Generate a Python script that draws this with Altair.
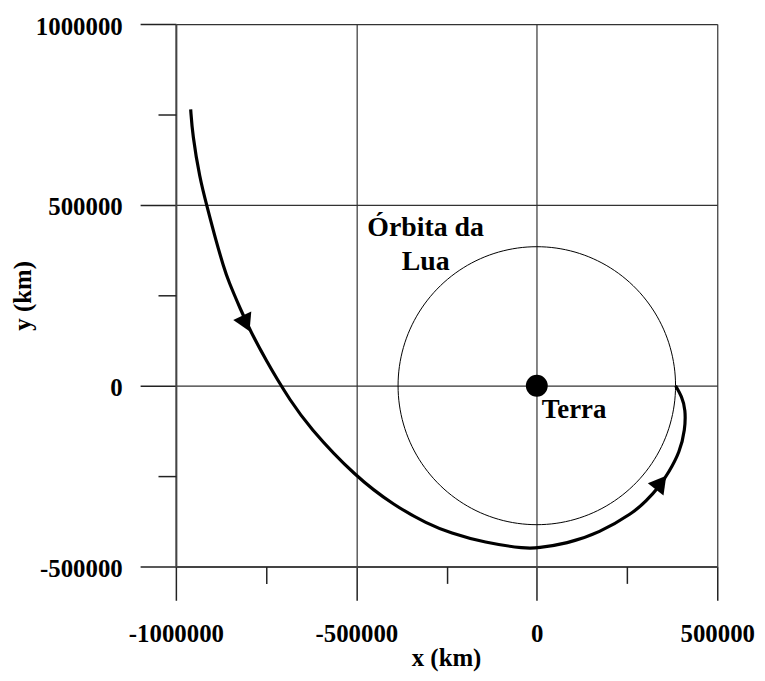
import altair as alt
import pandas as pd
import numpy as np

# ---- data ----
traj_x = [-959000, -954000, -934000, -914000, -889000, -867000, -855000, -820000,
          -795000, -746000, -718000, -688000, -633000, -501000, -394000, -303000,
          -240000, -146000, -28000, 0, 83000, 173000, 267000, 303000, 339000,
          366000, 396000, 411000, 412000, 402000, 384400]
traj_y = [764000, 695000, 574000, 497000, 401000, 327000, 291000, 209000,
          154000, 63000, 16000, -33000, -113000, -253000, -332000, -382000,
          -407000, -434000, -451000, -449000, -437000, -407000, -352000, -319000, -280000,
          -239000, -184000, -121000, -66000, -30000, 0]

arrow_x = [-806000, 344000]
arrow_y = [172000, -268000]
arrow_angle = [155, 38]

moon_orbit_radius = 384400
earth_x = [0]
earth_y = [0]

label_text = ["Órbita da", "Lua", "Terra"]
label_x = [-308000, -308000, 14000]
label_y = [415000, 319000, -88000]
label_align = ["center", "center", "left"]

x_major = [-1000000, -500000, 0, 500000]
x_minor = [-750000, -250000, 250000]
y_major = [-500000, 0, 500000, 1000000]
y_minor = [-250000, 250000, 750000]

FONT = "Liberation Serif"

traj = pd.DataFrame({"x": traj_x, "y": traj_y, "i": range(len(traj_x))})
theta = np.deg2rad(np.arange(0, 361, 2))
orbit = pd.DataFrame({"x": moon_orbit_radius * np.cos(theta),
                      "y": moon_orbit_radius * np.sin(theta),
                      "i": range(len(theta))})
arrows = pd.DataFrame({"x": arrow_x, "y": arrow_y, "a": arrow_angle})
earth = pd.DataFrame({"x": earth_x, "y": earth_y})
labels = pd.DataFrame({"x": label_x, "y": label_y, "t": label_text, "al": label_align})

xs = alt.Scale(domain=[-1000000, 500000], nice=False, zero=False)
ys = alt.Scale(domain=[-500000, 1000000], nice=False, zero=False)

common_axis = dict(
    labelFont=FONT, labelFontSize=25, labelFontWeight="bold", labelColor="black",
    titleFont=FONT, titleFontSize=25, titleFontWeight="bold", titleColor="black",
    tickColor="#222", tickWidth=1.5, domainColor="#444", domainWidth=2,
    gridColor="#333", gridWidth=1.2, gridOpacity=1,
    labelOverlap=False, labelFlush=False, labelBound=False,
)

x_major_axis = alt.Axis(values=x_major, orient="bottom", title="x (km)", grid=True,
                        tickSize=34, labelPadding=22, labelExpr="'' + datum.value",
                        titleX=272, titleY=100, titleBaseline="alphabetic", titleAlign="center",
                        **common_axis)
y_major_axis = alt.Axis(values=y_major, orient="left", title="y (km)", grid=True,
                        tickSize=36, labelPadding=18, labelOffset=2, labelExpr="'' + datum.value",
                        titleAngle=270, titleX=-146, titleY=273, titleBaseline="alphabetic",
                        titleAlign="center", **common_axis)
x_minor_axis = alt.Axis(values=x_minor, orient="bottom", title=None, grid=False, labels=False,
                        domain=False, tickSize=17, tickColor="#222", tickWidth=1.5)
y_minor_axis = alt.Axis(values=y_minor, orient="left", title=None, grid=False, labels=False,
                        domain=False, tickSize=18, tickColor="#222", tickWidth=1.5)

orbit_layer = alt.Chart(orbit).mark_line(color="black", strokeWidth=1).encode(
    x=alt.X("x:Q", scale=xs, axis=x_major_axis),
    y=alt.Y("y:Q", scale=ys, axis=y_major_axis),
    order="i:Q",
)

traj_layer = alt.Chart(traj).mark_line(color="black", strokeWidth=3.2,
                                       interpolate="basis").encode(
    x=alt.X("x:Q", scale=xs, axis=x_minor_axis),
    y=alt.Y("y:Q", scale=ys, axis=y_minor_axis),
    order="i:Q",
)

arrow_layer = alt.Chart(arrows).mark_point(shape="triangle-up", filled=True, size=400,
                                           color="black", opacity=1).encode(
    x=alt.X("x:Q", scale=xs, axis=None),
    y=alt.Y("y:Q", scale=ys, axis=None),
    angle=alt.Angle("a:Q", scale=None),
)

earth_layer = alt.Chart(earth).mark_point(shape="circle", filled=True, size=484,
                                          color="black", opacity=1).encode(
    x=alt.X("x:Q", scale=xs, axis=None),
    y=alt.Y("y:Q", scale=ys, axis=None),
)

text_center = alt.Chart(labels).transform_filter("datum.al == 'center'").mark_text(
    font=FONT, fontSize=28, fontWeight="bold", color="black",
    align="center", baseline="alphabetic").encode(
    x=alt.X("x:Q", scale=xs, axis=None),
    y=alt.Y("y:Q", scale=ys, axis=None),
    text="t:N",
)
text_left = alt.Chart(labels).transform_filter("datum.al == 'left'").mark_text(
    font=FONT, fontSize=27, fontWeight="bold", color="black",
    align="left", baseline="alphabetic").encode(
    x=alt.X("x:Q", scale=xs, axis=None),
    y=alt.Y("y:Q", scale=ys, axis=None),
    text="t:N",
)

chart = alt.layer(
    orbit_layer, traj_layer, arrow_layer, earth_layer, text_center, text_left
).resolve_axis(
    x="independent", y="independent"
).properties(
    width=545, height=546,
    padding={"left": 169, "top": 14, "right": 40, "bottom": 105},
    autosize=alt.AutoSizeParams(type="none"),
    background="white",
).configure_view(stroke=None)

chart.save("out.html", embed_options={"renderer": "svg", "actions": False})
